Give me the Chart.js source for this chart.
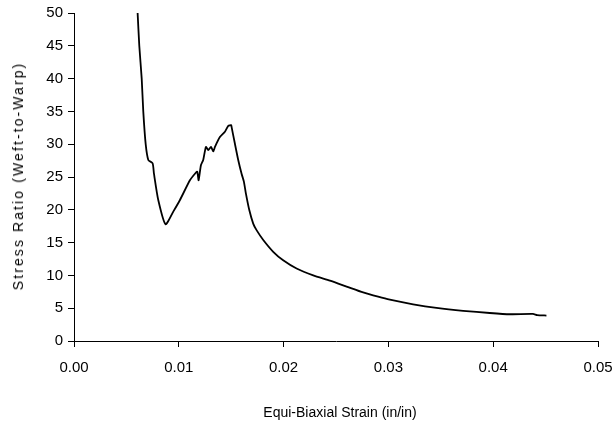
<!DOCTYPE html>
<html>
<head>
<meta charset="utf-8">
<script src="https://cdn.jsdelivr.net/npm/chart.js@4.4.1/dist/chart.umd.min.js"></script>
<style>
  html, body { margin: 0; padding: 0; background: #fff; }
  #wrap { position: relative; width: 613px; height: 425px; }
  #yTitle {
    position: absolute; left: 18px; top: 176px;
    transform: translate(-50%, -50%) rotate(-90deg);
    font: 14px "Liberation Sans", Arial, sans-serif; letter-spacing: 2.1px;
    white-space: nowrap; color: #000;
  }
  #xTitle {
    position: absolute; left: 340px; top: 412px;
    transform: translate(-50%, -50%);
    font: 14px "Liberation Sans", Arial, sans-serif;
    white-space: nowrap; color: #000;
  }
</style>
</head>
<body>
<div id="wrap">
  <canvas id="stressChart" width="613" height="425"></canvas>
  <div id="yTitle">Stress Ratio (Weft-to-Warp)</div>
  <div id="xTitle">Equi-Biaxial Strain (in/in)</div>
</div>
<script>
// ── Stress ratio vs equi-biaxial strain ──

// strain (in/in)
const strainX = [
  0.00607, 0.00623, 0.00646, 0.00661, 0.00684, 0.00709, 0.00750, 0.00763, 0.00804, 0.00874,
  0.00950, 0.01011, 0.01106, 0.01154, 0.01176, 0.01189, 0.01211, 0.01233, 0.01259, 0.01281,
  0.01307, 0.01329, 0.01345, 0.01392, 0.01440, 0.01472, 0.01500, 0.01504, 0.01535, 0.01567,
  0.01599, 0.01621, 0.01640, 0.01672, 0.01710, 0.01742, 0.01806, 0.01901, 0.01996, 0.02124,
  0.02283, 0.02442, 0.02601, 0.02759, 0.02902, 0.03014, 0.03236, 0.03459, 0.03713, 0.03967,
  0.04158, 0.04380, 0.04420, 0.04508
];
// stress ratio (weft / warp)
const ratioY = [
  50.0, 45.0, 40.0, 35.0, 30.0, 27.6, 27.1, 25.5, 21.5, 17.8,
  19.8, 21.5, 24.5, 25.5, 25.8, 24.5, 26.8, 27.6, 29.6, 29.1,
  29.6, 28.9, 29.6, 31.1, 31.9, 32.8, 32.9, 32.6, 30.1, 27.6,
  25.5, 24.3, 22.5, 20.0, 17.9, 16.9, 15.4, 13.6, 12.3, 11.05,
  10.0, 9.2, 8.3, 7.4, 6.75, 6.3, 5.6, 5.05, 4.6, 4.27,
  4.08, 4.12, 3.95, 3.88
];
const xTicks = [0, 0.01, 0.02, 0.03, 0.04, 0.05];
const yTicks = [0, 5, 10, 15, 20, 25, 30, 35, 40, 45, 50];

const points = strainX.map((x, i) => ({ x, y: ratioY[i] }));
const tickFont = { family: '"Liberation Sans", Arial, sans-serif', size: 15 };

new Chart(document.getElementById('stressChart').getContext('2d'), {
  type: 'scatter',
  data: {
    datasets: [{
      data: points,
      showLine: true,
      borderColor: '#000',
      borderWidth: 1.8,
      pointRadius: 0,
      tension: 0.2
    }]
  },
  options: {
    responsive: false,
    animation: false,
    layout: { padding: { left: 0, top: 13, right: 15, bottom: 0 } },
    plugins: { legend: { display: false }, tooltip: { enabled: false } },
    scales: {
      x: {
        type: 'linear', min: 0, max: 0.05,
        afterBuildTicks: s => { s.ticks = xTicks.map(v => ({ value: v })); },
        afterFit: s => { s.height = 84; s.paddingLeft = 0; s.paddingRight = 0; },
        border: { color: '#000', width: 1 },
        grid: { drawOnChartArea: false, drawTicks: true, tickLength: 6, color: '#000' },
        ticks: { color: '#000', font: tickFont, padding: 12, maxRotation: 0, callback: v => v.toFixed(2) }
      },
      y: {
        type: 'linear', min: 0, max: 50,
        afterBuildTicks: s => { s.ticks = yTicks.map(v => ({ value: v })); },
        afterFit: s => { s.width = 74; s.paddingTop = 0; s.paddingBottom = 0; },
        border: { color: '#000', width: 1 },
        grid: { drawOnChartArea: false, drawTicks: true, tickLength: 6, color: '#000' },
        ticks: { color: '#000', font: tickFont, padding: 5, callback: v => v }
      }
    }
  }
});
</script>
</body>
</html>
